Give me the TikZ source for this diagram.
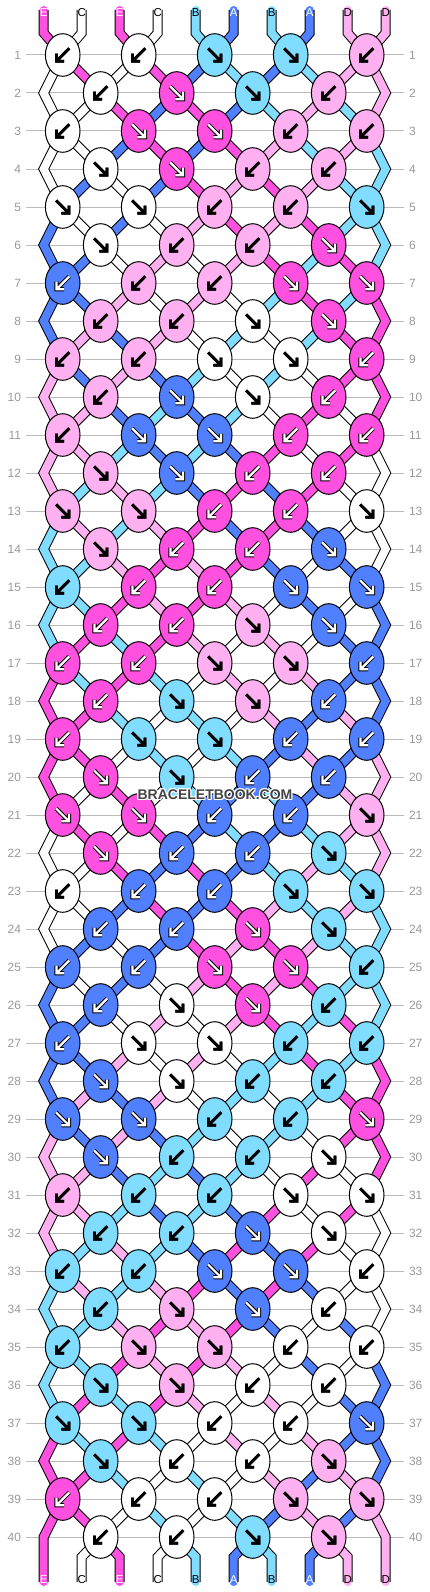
\documentclass[tikz,border=0pt]{standalone}
\usepackage{fontspec}
\setmainfont{Liberation Sans}
\usetikzlibrary{shapes.geometric}

\definecolor{colE}{HTML}{FF50E0}
\definecolor{colC}{HTML}{FFFFFF}
\definecolor{colB}{HTML}{80DDFF}
\definecolor{colA}{HTML}{5080FF}
\definecolor{colD}{HTML}{FFB0F0}
\definecolor{linegray}{HTML}{BBBBBB}
\definecolor{numgray}{HTML}{999999}
\definecolor{markgray}{HTML}{444444}

% strings in the order they run round the bracelet
\newcommand\ringcol[1]{\ifcase#1\or colE\or colE\or colB\or colB\or colD\or colD\or colA\or colA\or colC\or colC\fi}
\newcommand\arrwhite{\def\ac{white}\def\aw{4.2}\def\acw{2.2}}
\newcommand\arrblack{\def\ac{black}\def\aw{2.8}\def\acw{2.8}}
\newcommand\setarrow[1]{\ifcase#1\or\arrwhite\or\arrwhite\or\arrblack\or\arrblack\or\arrblack\or\arrblack\or\arrwhite\or\arrwhite\or\arrblack\or\arrblack\fi}
% 1 = forward knot, 0 = backward knot; the 8 rows repeat
\def\knotpatt{{0,0,1,1,0, 0,1,1,0,0, 0,1,1,0,0, 1,1,0,0,0, 1,1,0,0,1, 1,0,0,1,0, 0,0,0,1,1, 0,0,1,1,0}}
\newcommand\knotdata[2]{%
  \pgfmathtruncatemacro\ev{1-mod(#1,2)}%
  \pgfmathtruncatemacro\kl{(mod(2*#2-#1+\ev+40,20)+1)/2}%
  \pgfmathtruncatemacro\kr{(mod(22-2*#2-#1-\ev+40,20)+1)/2}%
  \pgfmathtruncatemacro\kdir{\knotpatt[5*mod(#1-1,8)+#2-1]}%
  \edef\lcol{\ringcol{\kl}}\edef\rcol{\ringcol{\kr}}%
}

\begin{document}
\begin{tikzpicture}[x=1pt,y=-1pt,
  rownum/.style={text=numgray,font=\fontsize{12}{12}\selectfont,inner sep=0pt,outer sep=5pt},
  rowline/.style={draw=linegray,line width=1pt},
  str/.style={line width=8pt,line cap=round,line join=miter,preaction={draw=black,line width=10pt}},
  strlabel/.style={font=\fontsize{11.5}{11.5}\selectfont,inner sep=0pt},
  knotnode/.style={ellipse,draw=black,line width=1pt,minimum width=34.6pt,minimum height=42.6pt,inner sep=0pt},
  wmtext/.style={font=\bfseries\fontsize{14}{14}\selectfont,inner sep=0pt}]
\useasboundingbox (0,0) rectangle (430,1592);

\foreach \rw in {1,...,40}{
  \pgfmathsetmacro\ky{55+38*(\rw-1)}
  \node[rownum,anchor=east] (nl\rw) at (26,\ky) {\rw};
  \node[rownum,anchor=west] (nr\rw) at (404,\ky) {\rw};
  \draw[rowline] (nl\rw) -- (nr\rw);
  \pgfmathsetmacro\kx{62.7+38*(1-mod(\rw,2))}
  \pgfmathtruncatemacro\kn{4+mod(\rw,2)}
  \foreach \kk in {1,...,\kn}
    \coordinate (p\rw-\kk) at ({\kx+76*(\kk-1)},\ky);
  \ifodd\rw\else
    \coordinate (eL\rw) at (43.7,\ky);
    \coordinate (eR\rw) at (385.7,\ky);
  \fi
}

\foreach \rw in {1,...,40}{
  \pgfmathtruncatemacro\kn{4+mod(\rw,2)}
  \pgfmathtruncatemacro\rp{\rw-1}
  \pgfmathtruncatemacro\rpp{\rw-2}
  \foreach \kk in {1,...,\kn}{
    \knotdata{\rw}{\kk}
    \pgfmathtruncatemacro\km{\kk-1}
    \pgfmathtruncatemacro\kp{\kk+1}
    \ifnum\rw=1
      \draw[str,draw=\lcol] ([shift={(-19,-45)}]p1-\kk) -- ([shift={(-19,-22)}]p1-\kk) -- (p1-\kk);
      \draw[str,draw=\rcol] ([shift={(19,-45)}]p1-\kk) -- ([shift={(19,-22)}]p1-\kk) -- (p1-\kk);
    \else\ifodd\rw
      \ifnum\kk=1
        \draw[str,draw=\lcol] (p\rpp-1) -- (eL\rp) -- (p\rw-1);
      \else
        \draw[str,draw=\lcol] (p\rp-\km) -- (p\rw-\kk);
      \fi
      \ifnum\kk=5
        \draw[str,draw=\rcol] (p\rpp-5) -- (eR\rp) -- (p\rw-5);
      \else
        \draw[str,draw=\rcol] (p\rp-\kk) -- (p\rw-\kk);
      \fi
    \else
      \draw[str,draw=\lcol] (p\rp-\kk) -- (p\rw-\kk);
      \draw[str,draw=\rcol] (p\rp-\kp) -- (p\rw-\kk);
    \fi\fi
    \ifnum\rw=39
      \ifnum\kk=1 \draw[str,draw=\rcol] (p39-1) -- (eL40) -- ([shift={(0,45)}]eL40); \fi
      \ifnum\kk=5 \draw[str,draw=\lcol] (p39-5) -- (eR40) -- ([shift={(0,45)}]eR40); \fi
    \fi
    \ifnum\rw=40
      \draw[str,draw=\rcol] (p40-\kk) -- ([shift={(-19,20)}]p40-\kk) -- ([shift={(-19,45)}]p40-\kk);
      \draw[str,draw=\lcol] (p40-\kk) -- ([shift={(19,20)}]p40-\kk) -- ([shift={(19,45)}]p40-\kk);
    \fi
  }
}

\foreach \lab/\tc [count=\ps] in {E/white,C/black,E/white,C/black,B/black,A/white,B/black,A/white,D/black,D/black}{
  \node[strlabel,text=\tc] (top\ps) at ({43.7+38*(\ps-1)},12.5) {\lab};
  \node[strlabel,text=\tc] (bot\ps) at ({43.7+38*(\ps-1)},1580) {\lab};
}

\foreach \rw in {1,...,40}{
  \pgfmathtruncatemacro\kn{4+mod(\rw,2)}
  \foreach \kk in {1,...,\kn}{
    \knotdata{\rw}{\kk}
    \ifnum\kdir=1
      \setarrow{\kl}\let\kc\lcol\def\sx{1}
    \else
      \setarrow{\kr}\let\kc\rcol\def\sx{-1}
    \fi
    \node[knotnode,fill=\kc] (knot\rw-\kk) at (p\rw-\kk) {};
    \draw[draw=\ac,line width=\acw pt,preaction={draw=black,line width=\aw pt}]
      ([shift={(-6.6*\sx,-6.6)}]knot\rw-\kk.center) -- ([shift={(5*\sx,5)}]knot\rw-\kk.center)
      ([shift={(6.2*\sx,-1.3)}]knot\rw-\kk.center) -- ([shift={(6.2*\sx,6.2)}]knot\rw-\kk.center)
      -- ([shift={(-1.3*\sx,6.2)}]knot\rw-\kk.center);
  }
}

\foreach \dx/\dy [count=\i] in {-1/0,1/0,0/-1,0/1,-1/-1,1/1,-1/1,1/-1}
  \node[wmtext,text=white] (halo\i) at ({215+\dx},{795+\dy}) {BRACELETBOOK.COM};
\node[wmtext,text=markgray] (watermark) at (215,795) {BRACELETBOOK.COM};
\end{tikzpicture}
\end{document}
